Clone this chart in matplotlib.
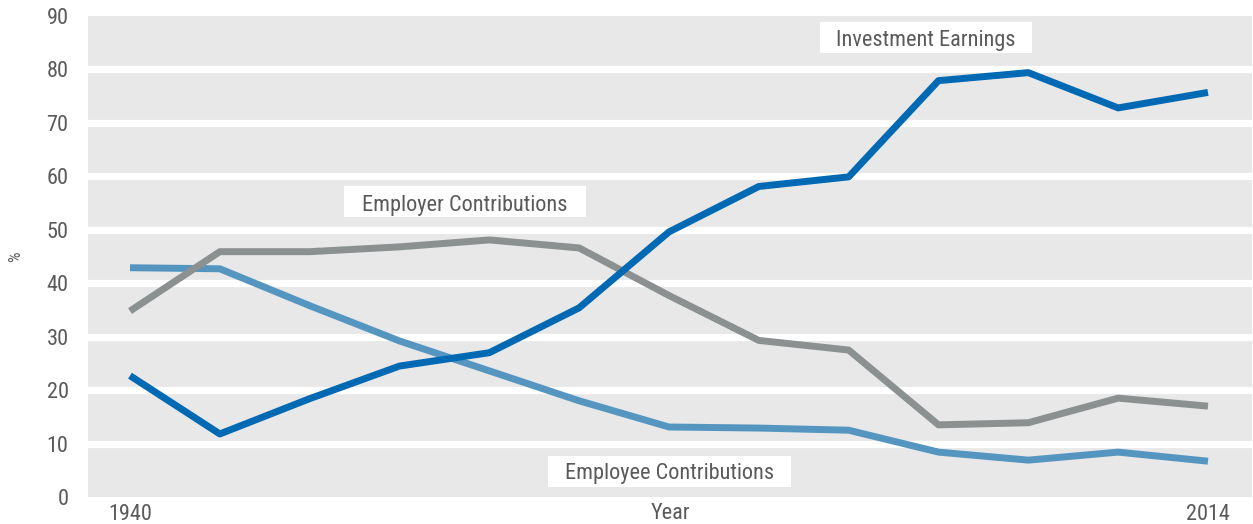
import matplotlib.pyplot as plt
from matplotlib.patches import Rectangle

plt.rcParams['font.family'] = ['Roboto Condensed', 'Liberation Sans Narrow', 'Liberation Sans', 'DejaVu Sans']

# data points, evenly spaced from 1940 to 2014
points = list(range(13))
tick_pos = [0, 12]
tick_labels = ["1940", "2014"]

investment = [22.7, 11.8, 18.4, 24.5, 27.0, 35.4, 49.6, 58.1, 59.9, 77.9, 79.4, 72.8, 75.7]
employer = [34.8, 45.9, 45.9, 46.8, 48.1, 46.6, 37.7, 29.3, 27.5, 13.5, 13.9, 18.5, 17.0]
employee = [42.9, 42.7, 35.8, 29.2, 23.6, 18.0, 13.1, 12.9, 12.5, 8.4, 6.9, 8.4, 6.7]

txt = '#5a5a5a'

fig = plt.figure(figsize=(12.53, 5.24), dpi=100)
ax = fig.add_axes([0.0702, 0.0515, 0.929, 0.918])
ax.set_facecolor('#e8e8e8')

ax.plot(points, employee, color='#5596c1', lw=5, solid_capstyle='butt', zorder=3)
ax.plot(points, employer, color='#8b9090', lw=5, solid_capstyle='butt', zorder=3)
ax.plot(points, investment, color='#0069b4', lw=5, solid_capstyle='butt', zorder=4)

ax.set_xlim(-0.468, 12.49)
ax.set_ylim(0, 90)
ax.set_yticks(range(0, 91, 10))
ax.set_xticks(tick_pos)
ax.set_xticklabels(tick_labels)
ax.tick_params(length=0, labelsize=16, labelcolor=txt)
ax.tick_params(axis='y', pad=14)
ax.tick_params(axis='x', pad=5)
for s in ax.spines.values():
    s.set_visible(False)

# white separators between the grey bands
for v in range(10, 90, 10):
    ax.axhline(v, color='white', lw=5.2, zorder=1)

ax.set_xlabel('Year', fontsize=16, color=txt)
ax.xaxis.set_label_coords(0.5, -0.012)
ax.set_ylabel('%', fontsize=12, color=txt)
ax.yaxis.set_label_coords(-0.056, 0.5)

# white label boxes
for x0, x1, y0, y1 in [(7.68, 10.04, 83.0, 88.8), (2.38, 5.08, 52.4, 58.2), (4.65, 7.36, 1.9, 7.7)]:
    ax.add_patch(Rectangle((x0, y0), x1 - x0, y1 - y0, facecolor='white', edgecolor='none', zorder=5))

ax.text(8.86, 84.3, 'Investment Earnings', fontsize=16, color=txt, ha='center', va='baseline', zorder=6)
ax.text(3.73, 53.6, 'Employer Contributions', fontsize=16, color=txt, ha='center', va='baseline', zorder=6)
ax.text(6.01, 3.3, 'Employee Contributions', fontsize=16, color=txt, ha='center', va='baseline', zorder=6)

fig.savefig('out.png', dpi=100)
